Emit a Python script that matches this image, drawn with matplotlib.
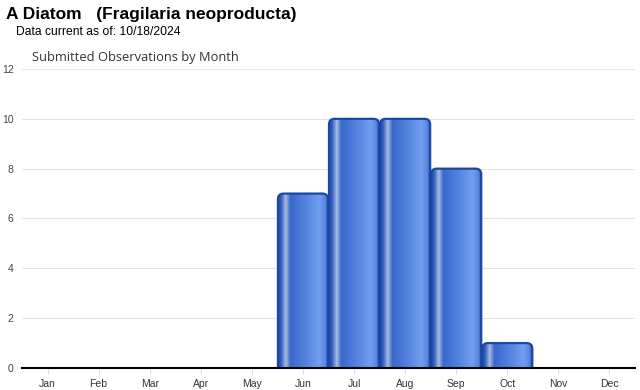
import numpy as np
import matplotlib
matplotlib.use('Agg')
import matplotlib.pyplot as plt
from matplotlib.patches import FancyBboxPatch
from matplotlib.colors import LinearSegmentedColormap

months = ['Jan', 'Feb', 'Mar', 'Apr', 'May', 'Jun',
          'Jul', 'Aug', 'Sep', 'Oct', 'Nov', 'Dec']
counts = [0, 0, 0, 0, 0, 7, 10, 10, 8, 1, 0, 0]
yticks = [0, 2, 4, 6, 8, 10, 12]

plt.rcParams['font.family'] = ['Liberation Sans', 'DejaVu Sans']

fig = plt.figure(figsize=(6.4, 3.9), dpi=100)
ax = fig.add_axes([22/640, 22/390, 613/640, 299/390])

# cylinder-like horizontal gradient for the bars
cmap = LinearSegmentedColormap.from_list('bar', [
    (0.00, '#1e4aa6'), (0.06, '#3560c0'), (0.15, '#a8bce0'),
    (0.24, '#3a68cc'), (0.50, '#4f7fdc'), (0.82, '#729ef0'),
    (0.93, '#5a88e0'), (1.00, '#1e4aa6')])
grad = np.linspace(0, 1, 200).reshape(1, -1)

x = np.arange(len(months))
width = 0.98
for xi, v in zip(x, counts):
    if v <= 0:
        continue
    left = xi - width / 2
    box = FancyBboxPatch((left, -0.5), width, v + 0.5,
                         boxstyle='round,pad=0,rounding_size=0.11',
                         mutation_aspect=2.05,
                         facecolor='none', edgecolor='#1a48a4',
                         linewidth=1.6, zorder=3)
    ax.add_patch(box)
    im = ax.imshow(grad, cmap=cmap, aspect='auto',
                   extent=(left, left + width, -0.5, v), zorder=2.5)
    im.set_clip_path(box)

ax.set_xlim(-0.5, 11.5)
ax.set_ylim(0, 12)
ax.set_yticks(yticks)
ax.set_yticklabels([str(t) for t in yticks], fontsize=7.5, color='#444444')
ax.set_xticks(x)
ax.set_xticklabels(months, fontsize=7.5, color='#333333')
ax.tick_params(axis='y', length=0, pad=6)
ax.tick_params(axis='x', length=4, color='#dddddd', pad=4)
ax.grid(axis='y', color='#e4e4e4', linewidth=0.8, zorder=0)
ax.set_axisbelow(True)
for s in ['top', 'right', 'left']:
    ax.spines[s].set_visible(False)
ax.spines['bottom'].set_color('black')
ax.spines['bottom'].set_linewidth(1.5)
ax.spines['bottom'].set_zorder(5)

fig.text(6/640, 1 - 15/390, 'A Diatom   (Fragilaria neoproducta)',
         fontsize=12.5, fontweight='bold', va='center', ha='left')
fig.text(16/640, 1 - 32/390, 'Data current as of: 10/18/2024',
         fontsize=8.7, va='center', ha='left')
fig.text(32/640, 1 - 58/390, 'Submitted Observations by Month',
         fontsize=9.3, color='#333333', va='center', ha='left',
         family=['Open Sans', 'DejaVu Sans'])

fig.savefig('out.png', dpi=100)
